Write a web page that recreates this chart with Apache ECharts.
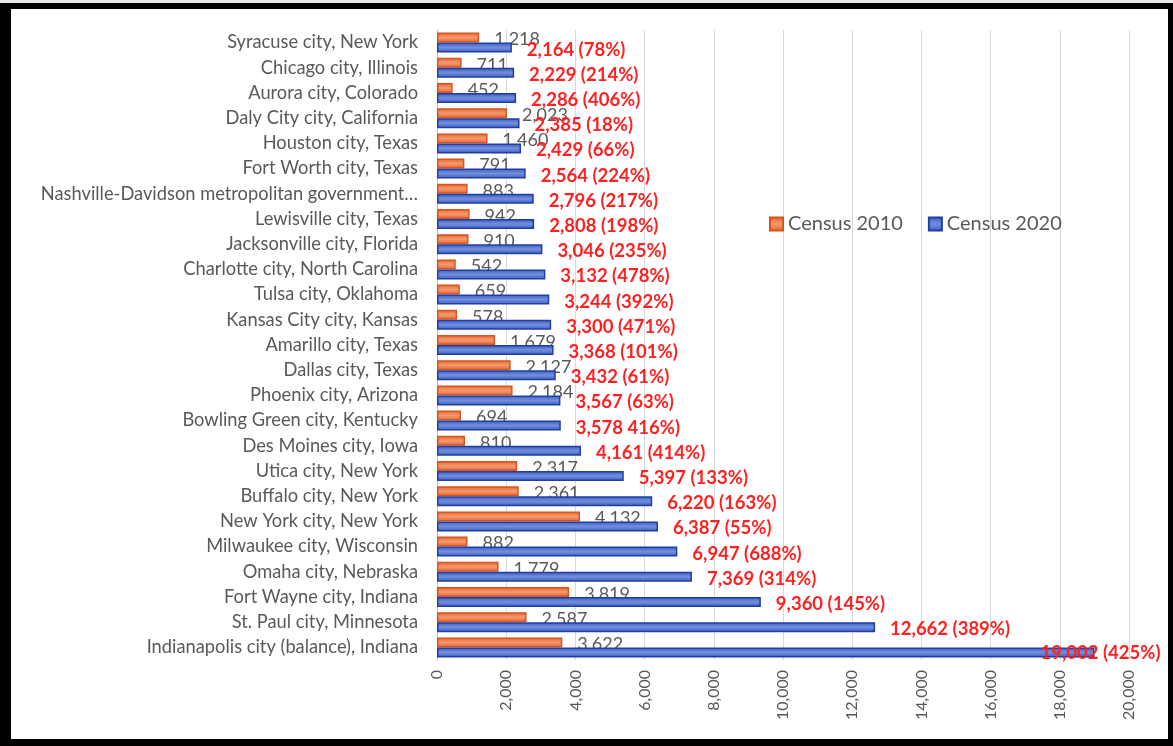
<!DOCTYPE html>
<html>
<head>
<meta charset="utf-8">
<script src="https://cdn.jsdelivr.net/npm/echarts@6/dist/echarts.min.js"></script>
<style>
  html, body { margin: 0; padding: 0; background: #e8e8e8; }
  #chart { position: absolute; left: 0; top: 0; width: 1173px; height: 746px; background: #fff; }
  #frame { position: absolute; left: 0; top: 3px; width: 1173px; height: 743px; box-sizing: border-box;
           border-left: 11px solid #000; border-top: 6px solid #000; border-right: 5px solid #000; border-bottom: 7px solid #000;
           pointer-events: none; }
  #topstrip { position: absolute; left: 0; top: 0; width: 1173px; height: 3px; background: #e8e8e8; }
</style>
</head>
<body>
<div id="chart"></div>
<div id="topstrip"></div>
<div id="frame"></div>
<script>
const categories = [
  "Syracuse city, New York",
  "Chicago city, Illinois",
  "Aurora city, Colorado",
  "Daly City city, California",
  "Houston city, Texas",
  "Fort Worth city, Texas",
  "Nashville-Davidson metropolitan government…",
  "Lewisville city, Texas",
  "Jacksonville city, Florida",
  "Charlotte city, North Carolina",
  "Tulsa city, Oklahoma",
  "Kansas City city, Kansas",
  "Amarillo city, Texas",
  "Dallas city, Texas",
  "Phoenix city, Arizona",
  "Bowling Green city, Kentucky",
  "Des Moines city, Iowa",
  "Utica city, New York",
  "Buffalo city, New York",
  "New York city, New York",
  "Milwaukee city, Wisconsin",
  "Omaha city, Nebraska",
  "Fort Wayne city, Indiana",
  "St. Paul city, Minnesota",
  "Indianapolis city (balance), Indiana"
];
const census2010 = [1218, 711, 452, 2023, 1460, 791, 883, 942, 910, 542, 659, 578, 1679, 2127, 2184, 694, 810, 2317, 2361, 4132, 882, 1779, 3819, 2587, 3622];
const census2020 = [2164, 2229, 2286, 2385, 2429, 2564, 2796, 2808, 3046, 3132, 3244, 3300, 3368, 3432, 3567, 3578, 4161, 5397, 6220, 6387, 6947, 7369, 9360, 12662, 19002];
const growthLabels = ["(78%)", "(214%)", "(406%)", "(18%)", "(66%)", "(224%)", "(217%)", "(198%)", "(235%)", "(478%)", "(392%)", "(471%)", "(101%)", "(61%)", "(63%)", "416%)", "(414%)", "(133%)", "(163%)", "(55%)", "(688%)", "(314%)", "(145%)", "(389%)", "(425%)"];
const xTicks = { min: 0, max: 20000, interval: 2000 };

const FONT = 'Lato';
const fmt = v => v.toLocaleString('en-US');

const chart = echarts.init(document.getElementById('chart'), null, { renderer: 'canvas' });

const data2020 = census2020.map((v, i) => {
  const item = { value: v };
  if (i === census2020.length - 1) {
    item.label = { position: 'insideRight', distance: 0, offset: [66, 1] };
  }
  return item;
});

chart.setOption({
  animation: false,
  textStyle: { fontFamily: FONT },
  legend: {
    left: 764, top: 209,
    itemWidth: 13, itemHeight: 13, itemGap: 25,
    icon: 'rect',
    textStyle: { fontFamily: FONT, fontSize: 20, color: '#595959' },
    data: ['Census 2010', 'Census 2020']
  },
  grid: { left: 437, right: 44, top: 30, bottom: 86, containLabel: false },
  xAxis: {
    type: 'value', min: xTicks.min, max: xTicks.max, interval: xTicks.interval,
    axisLine: { show: false }, axisTick: { show: false },
    splitLine: { show: true, lineStyle: { color: '#d9d9d9', width: 1 } },
    axisLabel: { rotate: 90, margin: 10, fontFamily: FONT, fontSize: 16, color: '#595959', formatter: v => fmt(v) }
  },
  yAxis: {
    type: 'category', data: categories, inverse: true,
    axisLine: { show: true, lineStyle: { color: '#bfbfbf', width: 1 } },
    axisTick: { show: false },
    axisLabel: { margin: 19, fontFamily: FONT, fontSize: 18.3, color: '#595959' }
  },
  series: [
    {
      name: 'Census 2010', type: 'bar', data: census2010,
      barWidth: 10, barGap: '0%',
      itemStyle: {
        color: new echarts.graphic.LinearGradient(0, 0, 0, 1, [
          { offset: 0, color: '#e8632a' }, { offset: 0.5, color: '#f39a72' }, { offset: 1, color: '#e8632a' }
        ]),
        borderColor: '#d9531a', borderWidth: 1.5
      },
      label: {
        show: true, position: 'right', distance: 15, offset: [0, 2],
        fontFamily: FONT, fontSize: 18, color: '#595959',
        formatter: p => fmt(p.value)
      },
      z: 3
    },
    {
      name: 'Census 2020', type: 'bar', data: data2020,
      barWidth: 10, barGap: '0%',
      itemStyle: {
        color: new echarts.graphic.LinearGradient(0, 0, 0, 1, [
          { offset: 0, color: '#3a5bbf' }, { offset: 0.5, color: '#7390dc' }, { offset: 1, color: '#3a5bbf' }
        ]),
        borderColor: '#1f3fa6', borderWidth: 1.5
      },
      label: {
        show: true, position: 'right', distance: 15, offset: [0, 2],
        fontFamily: FONT, fontSize: 18.5, fontWeight: 'bold', color: '#ff2020',
        formatter: p => fmt(census2020[p.dataIndex]) + ' ' + growthLabels[p.dataIndex]
      },
      z: 4
    }
  ]
});
</script>
</body>
</html>
